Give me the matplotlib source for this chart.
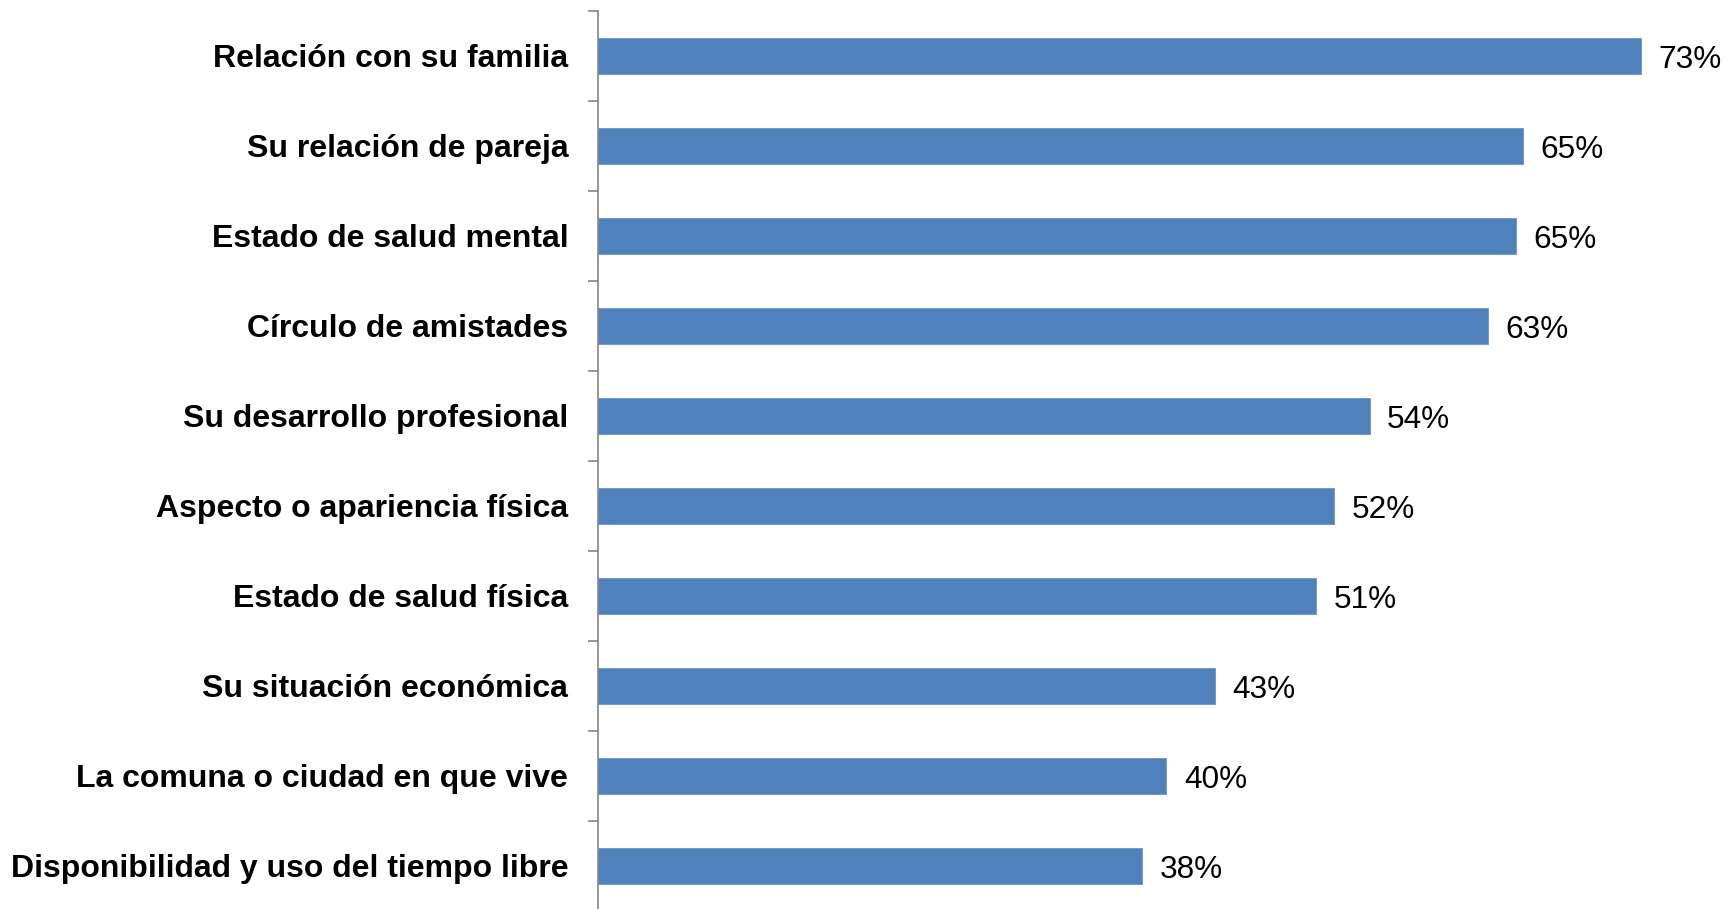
import matplotlib
matplotlib.use("Agg")
import matplotlib.pyplot as plt
import numpy as np

categories = [
    "Relación con su familia",
    "Su relación de pareja",
    "Estado de salud mental",
    "Círculo de amistades",
    "Su desarrollo profesional",
    "Aspecto o apariencia física",
    "Estado de salud física",
    "Su situación económica",
    "La comuna o ciudad en que vive",
    "Disponibilidad y uso del tiempo libre",
]
values = [73.4, 65.15, 64.66, 62.69, 54.34, 51.85, 50.56, 43.43, 40.03, 38.34]

plt.rcParams["font.family"] = ["Liberation Sans", "DejaVu Sans"]

fig = plt.figure(figsize=(17.25, 9.09), dpi=100)
ax = fig.add_axes([0.3464, -0.0022, 0.6426, 0.9901])

y = np.arange(len(categories))
bars = ax.barh(y, values, height=0.4, color="#4F81BD",
               edgecolor="#6A95CB", linewidth=0.6)

for yi, v in zip(y, values):
    ax.annotate(f"{v:.0f}%", xy=(v, yi), xytext=(12.5, -3),
                textcoords="offset points", va="center", ha="left",
                fontsize=22.7, color="black")

ax.set_xlim(0, 78)
ax.set_ylim(len(categories) - 0.5, -0.5)

ax.set_yticks(y)
ax.set_yticklabels(categories, fontsize=23.0, fontweight="bold")
ax.set_yticks(np.arange(len(categories) + 1) - 0.5, minor=True)
ax.tick_params(axis="y", which="major", length=0, pad=21)
ax.tick_params(axis="y", which="minor", length=7.2, width=1.2, color="#868686")
ax.set_xticks([])

for side in ("top", "right", "bottom"):
    ax.spines[side].set_visible(False)
ax.spines["left"].set_color("#868686")
ax.spines["left"].set_linewidth(1.2)

fig.savefig("out.png", dpi=100)
